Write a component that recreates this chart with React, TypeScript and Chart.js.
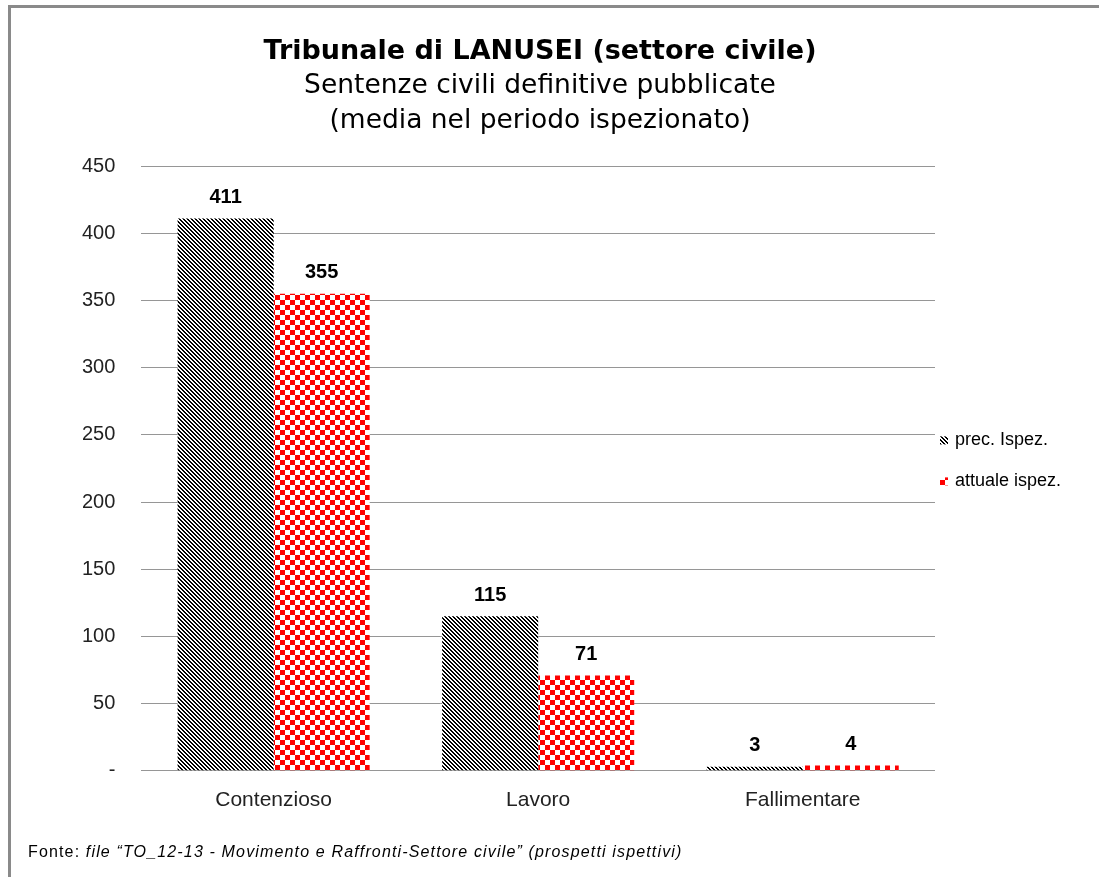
import React, { useEffect, useRef } from "react";
import { Chart, registerables } from "chart.js";

Chart.register(...registerables);

const categories = ["Contenzioso", "Lavoro", "Fallimentare"];
const precIspez = [411, 115, 3];
const attualeIspez = [355, 71, 4];
const seriesLabels = ["prec. Ispez.", "attuale ispez."];
const titleText = "Tribunale di LANUSEI (settore civile)";
const subtitleLines = ["Sentenze civili definitive pubblicate", "(media nel periodo ispezionato)"];
const yMin = 0;
const yMax = 450;
const yStep = 50;
const footerLead = "Fonte: ";
const footerItalic = "file \u201cTO_12-13 - Movimento e Raffronti-Settore civile\u201d (prospetti ispettivi)";

function makeStripePattern(): CanvasPattern | string {
  const c = document.createElement("canvas");
  c.width = 4;
  c.height = 4;
  const ctx = c.getContext("2d");
  if (!ctx) return "#000";
  ctx.fillStyle = "#ffffff";
  ctx.fillRect(0, 0, 4, 4);
  ctx.fillStyle = "#000000";
  for (let y = 0; y < 4; y++) {
    for (let x = 0; x < 4; x++) {
      if ((((x - y) % 4) + 4) % 4 < 2) ctx.fillRect(x, y, 1, 1);
    }
  }
  return ctx.createPattern(c, "repeat") || "#000";
}

function makeCheckerPattern(): CanvasPattern | string {
  const c = document.createElement("canvas");
  c.width = 10;
  c.height = 10;
  const ctx = c.getContext("2d");
  if (!ctx) return "#f00";
  ctx.fillStyle = "#ffffff";
  ctx.fillRect(0, 0, 10, 10);
  ctx.fillStyle = "#ff0000";
  ctx.fillRect(0, 0, 5, 5);
  ctx.fillRect(5, 5, 5, 5);
  return ctx.createPattern(c, "repeat") || "#f00";
}

const titleBlockPlugin = {
  id: "titleBlock",
  afterDraw(chart: any) {
    const ctx = chart.ctx;
    const cx = 540;
    ctx.save();
    ctx.fillStyle = "#000";
    ctx.textAlign = "center";
    ctx.textBaseline = "middle";
    ctx.font = "bold 27px 'DejaVu Sans', Verdana, sans-serif";
    ctx.fillText(titleText, cx, 52);
    ctx.font = "26.5px 'DejaVu Sans', Verdana, sans-serif";
    ctx.fillText(subtitleLines[0], cx, 86);
    ctx.fillText(subtitleLines[1], cx, 121);
    ctx.restore();
  },
};

const valueLabelPlugin = {
  id: "valueLabels",
  afterDatasetsDraw(chart: any) {
    const ctx = chart.ctx;
    ctx.save();
    ctx.font = "bold 20px 'Liberation Sans', Arial, sans-serif";
    ctx.fillStyle = "#000";
    ctx.textAlign = "center";
    ctx.textBaseline = "middle";
    chart.data.datasets.forEach((ds: any, i: number) => {
      const meta = chart.getDatasetMeta(i);
      meta.data.forEach((el: any, j: number) => {
        ctx.fillText(String(ds.data[j]), el.x, el.y - 21);
      });
    });
    ctx.restore();
  },
};

const customLegendPlugin = {
  id: "customLegend",
  afterDraw(chart: any) {
    const ctx = chart.ctx;
    const area = chart.chartArea;
    const mid = (area.top + area.bottom) / 2;
    const offsets = [-28, 13];
    ctx.save();
    ctx.font = "18px 'Liberation Sans', Arial, sans-serif";
    ctx.textBaseline = "middle";
    ctx.textAlign = "left";
    chart.data.datasets.forEach((ds: any, i: number) => {
      const cy = mid + offsets[i];
      const bx = area.right + 5;
      ctx.fillStyle = ds.backgroundColor;
      ctx.fillRect(bx, cy - 4, 8, 8);
      ctx.fillStyle = "#000";
      ctx.fillText(ds.label, area.right + 20, cy);
    });
    ctx.restore();
  },
};

export default function App() {
  const canvasRef = useRef<HTMLCanvasElement | null>(null);

  useEffect(() => {
    document.body.style.overflow = "hidden";
    const canvas = canvasRef.current;
    if (!canvas) return;
    const stripes = makeStripePattern();
    const checker = makeCheckerPattern();
    const chart = new Chart(canvas, {
      type: "bar",
      data: {
        labels: categories,
        datasets: [
          {
            label: seriesLabels[0],
            data: precIspez,
            backgroundColor: stripes as any,
            borderWidth: 0,
            categoryPercentage: 0.726,
            barPercentage: 1,
          },
          {
            label: seriesLabels[1],
            data: attualeIspez,
            backgroundColor: checker as any,
            borderWidth: 0,
            categoryPercentage: 0.726,
            barPercentage: 1,
          },
        ],
      },
      options: {
        responsive: false,
        animation: false,
        layout: { padding: { left: 56, right: 164, top: 166, bottom: 47 } },
        plugins: {
          legend: { display: false },
          tooltip: { enabled: false },
          title: { display: false },
          subtitle: { display: false },
        },
        scales: {
          x: {
            grid: { display: false, drawTicks: false },
            border: { display: false },
            ticks: {
              color: "#222",
              padding: 17,
              font: { family: "'Liberation Sans', Arial, sans-serif", size: 21 },
            },
          },
          y: {
            min: yMin,
            max: yMax,
            grid: { color: "#969696", lineWidth: 1, drawTicks: false },
            border: { display: false },
            ticks: {
              stepSize: yStep,
              color: "#222",
              padding: 26,
              font: { family: "'Liberation Sans', Arial, sans-serif", size: 20 },
              callback: (v: any) => (Number(v) === 0 ? "-" : String(v)),
            },
          },
        },
      },
      plugins: [titleBlockPlugin, valueLabelPlugin, customLegendPlugin],
    });
    return () => chart.destroy();
  }, []);

  return (
    <div style={{ position: "absolute", left: 0, top: 0, width: 1099, height: 877, overflow: "hidden", background: "#fff" }}>
      <div
        style={{
          position: "absolute",
          left: 8,
          top: 5,
          width: 1091,
          height: 872,
          boxSizing: "border-box",
          borderLeft: "3px solid #8a8a8a",
          borderTop: "3px solid #8a8a8a",
        }}
      />
      <canvas
        ref={canvasRef}
        width={1099}
        height={877}
        style={{ position: "absolute", left: 0, top: 0, width: 1099, height: 877 }}
      />
      <div
        style={{
          position: "absolute",
          left: 28,
          top: 843,
          fontFamily: "'Liberation Sans', Arial, sans-serif",
          fontSize: 16,
          letterSpacing: "1.15px",
          lineHeight: "18px",
          color: "#000",
          whiteSpace: "nowrap",
        }}
      >
        {footerLead}
        <i>{footerItalic}</i>
      </div>
    </div>
  );
}
